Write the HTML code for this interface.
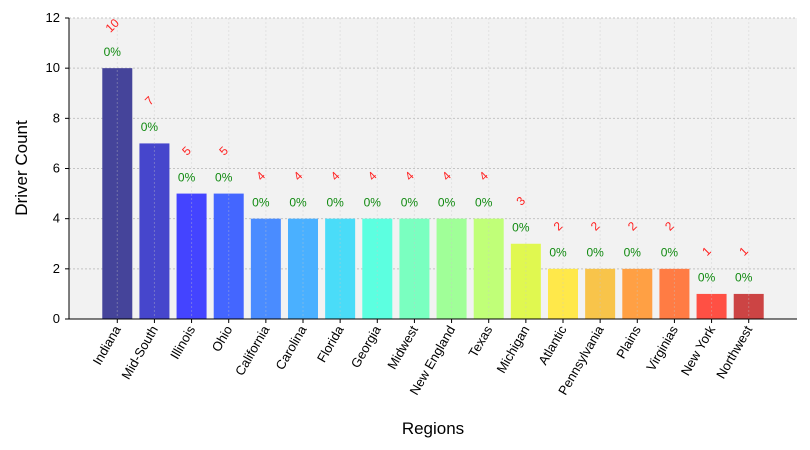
<!DOCTYPE html>
<html><head><meta charset="utf-8">
<style>body{margin:0;background:#fff}svg{display:block;font-family:"Liberation Sans","DejaVu Sans",sans-serif}</style>
</head><body>
<svg id="chart" width="810" height="450" viewBox="0 0 810 450" xmlns="http://www.w3.org/2000/svg">
<rect x="69" y="18" width="728" height="301" fill="#f2f2f2"/>
<g id="grid"></g><g id="bars"></g><g id="vgrid"></g><g id="labels"></g><g id="axes"></g>
<text x="27" y="168" transform="rotate(-90 27 168)" font-size="17" text-anchor="middle">Driver Count</text>
<text x="433" y="434" font-size="17" text-anchor="middle">Regions</text>
</svg>
<script>
const categories=["Indiana","Mid-South","Illinois","Ohio","California","Carolina","Florida","Georgia","Midwest","New England","Texas","Michigan","Atlantic","Pennsylvania","Plains","Virginias","New York","Northwest"];
const counts=[10,7,5,5,4,4,4,4,4,4,4,3,2,2,2,2,1,1];
const percents=["0%","0%","0%","0%","0%","0%","0%","0%","0%","0%","0%","0%","0%","0%","0%","0%","0%","0%"];
const yTicks=[0,2,4,6,8,10,12];
const colors=["#45449a","#4646cc","#4444ff","#4466ff","#4a8cff","#4ab0ff","#4adcf8","#5cffe0","#7affc0","#a0ff98","#c0ff78","#e0f850","#ffe84a","#f8c44a","#ffa044","#ff7c44","#ff5044","#cc4444"];
const NS="http://www.w3.org/2000/svg";
const L=69,R=797,T=18,B=319,yMax=12,xMin=-1.3,xMax=18.3;
const xs=i=>L+(i-xMin)/(xMax-xMin)*(R-L);
const ys=v=>B-v/yMax*(B-T);
const bw=30;
function mk(tag,attrs,parent,txt){const e=document.createElementNS(NS,tag);for(const k in attrs)e.setAttribute(k,attrs[k]);if(txt!==undefined)e.textContent=txt;document.getElementById(parent).appendChild(e);return e;}
yTicks.forEach(t=>{
 const g=mk("line",{x1:L,x2:R,y1:ys(t),y2:ys(t),stroke:"#c4c4c4","stroke-dasharray":"2,2","stroke-width":1},"grid");
 
 
 const tk=mk("line",{x1:L-4,x2:L,y1:ys(t),y2:ys(t),stroke:"#000"},"axes");
 
 
 const tl=mk("text",{x:L-9,y:ys(t)+4,"font-size":13,"text-anchor":"end"},"axes",t);
 
 
});
categories.forEach((c,i)=>{
 const x=xs(i),v=counts[i];
 const b=mk("rect",{x:x-bw/2,y:ys(v),width:bw,height:B-ys(v),fill:colors[i]},"bars");
 
 
 const vg=mk("line",{x1:x,x2:x,y1:T,y2:B,stroke:"#c8c8c8","stroke-dasharray":"2,2","stroke-width":1,opacity:0.35},"vgrid");
 
 
 const cy=ys(v+1.7);
 const cl=mk("text",{x:x-5,y:cy+4,"font-size":12,fill:"#ff2020","text-anchor":"middle",transform:`rotate(-45 ${x-5} ${cy})`},"labels",v);
 
 
 const pl=mk("text",{x:x-5,y:ys(v+0.65)+4,"font-size":12,fill:"#108a10","text-anchor":"middle"},"labels",percents[i]);
 
 
 const tk=mk("line",{x1:x,x2:x,y1:B,y2:B+4,stroke:"#000"},"axes");
 
 
 const xl=mk("text",{x:x+4,y:B+10,"font-size":13,"text-anchor":"end",transform:`rotate(-60 ${x+4} ${B+10})`},"axes",c);
 
 
});
const ya=mk("line",{x1:L,x2:L,y1:T,y2:B,stroke:"#000"},"axes");


const xa=mk("line",{x1:L,x2:R,y1:B,y2:B,stroke:"#000"},"axes");


</script>
</body></html>
